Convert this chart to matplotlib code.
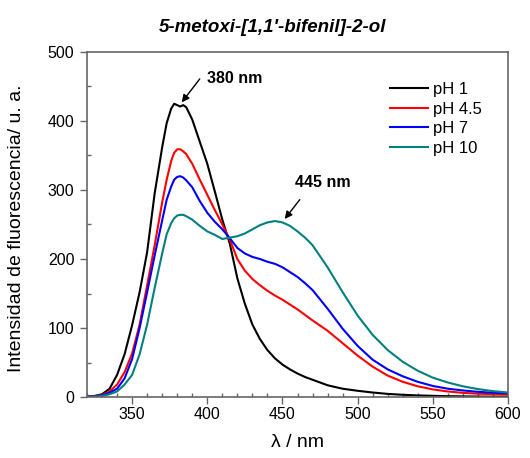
import matplotlib
matplotlib.use("Agg")
import matplotlib.pyplot as plt
from matplotlib.ticker import MultipleLocator

plt.rcParams["font.family"] = ["Liberation Sans", "DejaVu Sans"]

# Emission spectra of 5-metoxi-[1,1'-bifenil]-2-ol at different pH
wavelength = [320, 325, 330, 335, 340, 345, 350, 355, 360, 365, 370, 373, 376, 378,
              380, 382, 384, 386, 390, 395, 400, 405, 410, 415, 420, 425, 430, 435,
              440, 445, 450, 455, 460, 465, 470, 480, 490, 500, 510, 520, 530, 540,
              550, 560, 570, 580, 590, 600]

ph1 = [0.5, 1.5, 4, 12, 32, 62, 104, 152, 210, 295, 362, 397, 418, 425,
       423, 421, 423, 420, 402, 370, 338, 298, 257, 222, 172, 135, 105, 84,
       68, 56, 47, 40, 34, 29, 25, 17, 12, 9, 6.5, 4.5, 3.2, 2.3,
       1.7, 1.2, 0.9, 0.7, 0.5, 0.4]

ph4_5 = [0.5, 1, 3, 8, 18, 36, 63, 105, 162, 220, 282, 315, 342, 354,
         359, 359, 356, 352, 338, 315, 293, 271, 250, 228, 200, 183, 171, 162,
         154, 147, 141, 134, 127, 119, 111, 96, 78, 60, 44, 31, 22, 15.5,
         11, 8, 6, 4.8, 4, 3.3]

ph7 = [0.3, 0.8, 2.5, 6, 12, 27, 55, 100, 152, 205, 256, 286, 305, 315,
       319, 320, 318, 314, 304, 284, 267, 254, 243, 230, 216, 208, 203, 200,
       196, 193, 188, 181, 174, 165, 155, 128, 99, 74, 54, 40, 30, 22,
       16, 12, 9.5, 7.5, 6.2, 5.2]

ph10 = [0.2, 0.5, 1.5, 4, 8, 18, 32, 62, 105, 158, 208, 236, 252, 259,
        263, 264, 264, 262, 257, 248, 240, 235, 229, 231, 233, 237, 243, 249,
        253, 255, 253, 248, 240, 231, 220, 188, 152, 118, 90, 68, 51, 38,
        28, 21, 15.5, 11.5, 8.5, 6.5]

series = [("pH 1", ph1, "#000000"),
          ("pH 4.5", ph4_5, "#ff0000"),
          ("pH 7", ph7, "#0000ff"),
          ("pH 10", ph10, "#008080")]

fig = plt.figure(figsize=(5.30, 4.58), dpi=100)
ax = fig.add_axes([87 / 530, 1 - 397 / 458, 421 / 530, 345 / 458])

for label, values, color in series:
    ax.plot(wavelength, values, color=color, lw=1.5, label=label,
            solid_joinstyle="round")

ax.set_xlim(320, 600)
ax.set_ylim(0, 500)
ax.xaxis.set_major_locator(MultipleLocator(50))
ax.xaxis.set_minor_locator(MultipleLocator(10))
ax.yaxis.set_major_locator(MultipleLocator(100))
ax.yaxis.set_minor_locator(MultipleLocator(50))

spine_color = "#666666"
for s in ax.spines.values():
    s.set_color(spine_color)
    s.set_linewidth(1.2)

ax.tick_params(which="major", direction="out", length=5, width=1.0,
               color=spine_color, labelsize=11.5, pad=2)
ax.tick_params(which="minor", direction="in", length=3, width=1.0,
               color=spine_color)
ax.tick_params(axis="y", which="major", pad=4)

ax.set_xlabel("λ / nm", fontsize=14)
ax.set_ylabel("Intensidad de fluorescencia/ u. a.", fontsize=14)
ax.xaxis.set_label_coords(0.5, -0.108)
ax.yaxis.set_label_coords(-0.148, 0.49)

fig.text(273 / 530, 1 - 27 / 458, "5-metoxi-[1,1'-bifenil]-2-ol",
         ha="center", va="center", fontsize=13.5, fontweight="bold",
         fontstyle="italic")

arrow = dict(arrowstyle="-|>", color="black", lw=1.0, mutation_scale=11,
             shrinkA=0, shrinkB=0)
ax.annotate("", xy=(383, 427), xytext=(395, 461), arrowprops=arrow)
ax.text(399.5, 461, "380 nm", fontsize=11.5, fontweight="bold",
        ha="left", va="center")
ax.annotate("", xy=(451.5, 258), xytext=(461.5, 286), arrowprops=arrow)
ax.text(458.5, 311, "445 nm", fontsize=11.5, fontweight="bold",
        ha="left", va="center")

leg = ax.legend(loc="upper left", bbox_to_anchor=(0.72, 0.913), frameon=False,
                fontsize=12, handlelength=2.3, handletextpad=0.25,
                labelspacing=0.27, borderpad=0, borderaxespad=0)

fig.savefig("out.png", dpi=100)
